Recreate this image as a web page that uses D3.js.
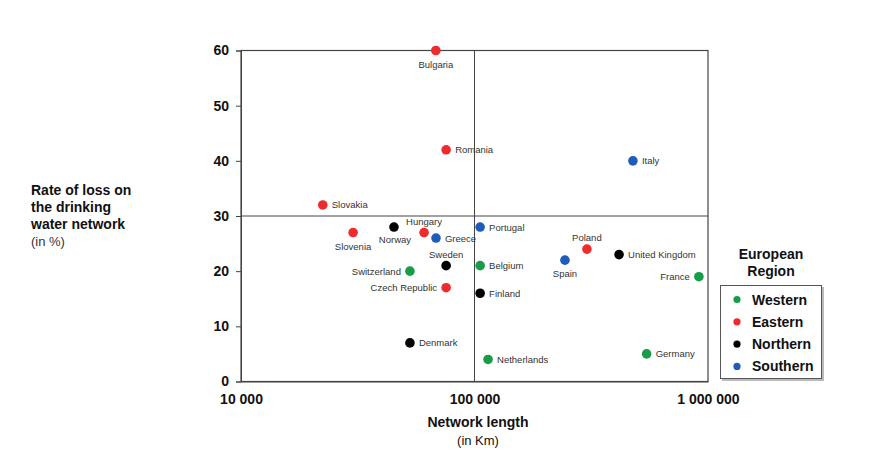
<!DOCTYPE html>
<html>
<head>
<meta charset="utf-8">
<script src="https://cdn.jsdelivr.net/npm/d3@7"></script>
<style>
  html, body { margin: 0; padding: 0; background: #fff; }
  svg { display: block; font-family: "Liberation Sans", Arial, sans-serif; }
</style>
</head>
<body>
<svg id="chart" width="869" height="460"></svg>
<script>
// ---- Data ----
const countries = ["Bulgaria","Romania","Italy","Slovakia","Norway","Hungary","Slovenia","Greece","Portugal","Poland","United Kingdom","Spain","France","Sweden","Belgium","Switzerland","Czech Republic","Finland","Denmark","Netherlands","Germany"];
const networkLength = [68300, 75600, 477000, 22400, 45200, 60800, 30200, 68400, 105700, 303000, 416000, 244000, 914000, 75600, 105700, 52900, 75600, 105700, 52900, 114300, 546000];
const lossRate = [60, 42, 40, 32, 28, 27, 27, 26, 28, 24, 23, 22, 19, 21, 21, 20, 17, 16, 7, 4, 5];
const regionOf = ["Eastern","Eastern","Southern","Eastern","Northern","Eastern","Eastern","Southern","Southern","Eastern","Northern","Southern","Western","Northern","Western","Western","Eastern","Northern","Northern","Western","Western"];
const labelPos = ["below","right","right","right","belowleft","above","below","right","right","above","right","below","left","above","right","left","left","right","right","right","right"];
const regions = ["Western","Eastern","Northern","Southern"];
const regionColors = ["#179c48","#ef2b2d","#000000","#1f5bb8"];
const xTicks = [10000, 100000, 1000000];
const xTickLabels = ["10 000","100 000","1 000 000"];
const yTicks = [0, 10, 20, 30, 40, 50, 60];

// ---- Layout ----
const svg = d3.select("#chart");
const pL = 241, pR = 708, pT = 50.5, pB = 381.5;
const x = d3.scaleLog().domain([10000, 1000000]).range([pL, pR]);
const y = d3.scaleLinear().domain([0, 60]).range([pB, pT]);
const color = d3.scaleOrdinal().domain(regions).range(regionColors);

// frame
svg.append("rect").attr("x", pL).attr("y", pT).attr("width", pR - pL).attr("height", pB - pT)
  .attr("fill", "none").attr("stroke", "#444").attr("stroke-width", 1.2);
// cross lines
svg.append("line").attr("x1", x(100000)).attr("x2", x(100000)).attr("y1", pT).attr("y2", pB)
  .attr("stroke", "#444").attr("stroke-width", 1);
svg.append("line").attr("x1", pL).attr("x2", pR).attr("y1", y(30)).attr("y2", y(30))
  .attr("stroke", "#444").attr("stroke-width", 1);

// y axis
const yAxis = d3.axisLeft(y).tickValues(yTicks).tickSize(5).tickPadding(7).tickFormat(d3.format("d"));
const gy = svg.append("g").attr("transform", `translate(${pL},0)`).call(yAxis);
gy.select(".domain").attr("stroke", "#444");
gy.selectAll(".tick line").attr("stroke", "#444");
gy.selectAll(".tick text").attr("font-size", 14).attr("font-weight", "bold").attr("fill", "#111")
  .attr("font-family", '"Liberation Sans", Arial, sans-serif');

// x axis
const xAxis = d3.axisBottom(x).tickValues(xTicks).tickSize(0).tickPadding(13)
  .tickFormat((d, i) => xTickLabels[i]);
const gx = svg.append("g").attr("transform", `translate(0,${pB})`).call(xAxis);
gx.select(".domain").attr("stroke", "#444");
gx.selectAll(".tick text").attr("font-size", 14).attr("font-weight", "bold").attr("fill", "#111")
  .attr("font-family", '"Liberation Sans", Arial, sans-serif');

// axis titles
const xt = svg.append("text").attr("x", 478).attr("text-anchor", "middle").attr("fill", "#111");
xt.append("tspan").attr("x", 478).attr("y", 427).attr("font-size", 14).attr("font-weight", "bold").text("Network length");
xt.append("tspan").attr("x", 478).attr("y", 445).attr("font-size", 13).text("(in Km)");

const ytLines = ["Rate of loss on", "the drinking", "water network"];
const yt = svg.append("text").attr("fill", "#111");
ytLines.forEach((t, i) => {
  yt.append("tspan").attr("x", 31).attr("y", 195 + i * 17).attr("font-size", 14).attr("font-weight", "bold").text(t);
});
yt.append("tspan").attr("x", 31).attr("y", 195 + 3 * 17).attr("font-size", 13).attr("fill", "#333").text("(in %)");

// points
const data = countries.map((c, i) => ({ name: c, len: networkLength[i], loss: lossRate[i], region: regionOf[i], pos: labelPos[i] }));
svg.append("g").selectAll("circle").data(data).join("circle")
  .attr("cx", d => x(d.len)).attr("cy", d => y(d.loss)).attr("r", 4.8)
  .attr("fill", d => color(d.region));

const lbl = svg.append("g").attr("font-size", 9.5).attr("fill", "#333");
data.forEach(d => {
  const cx = x(d.len), cy = y(d.loss);
  let tx = cx, ty = cy + 3.5, anchor = "start";
  if (d.pos === "right") { tx = cx + 9; anchor = "start"; }
  else if (d.pos === "left") { tx = cx - 9; anchor = "end"; }
  else if (d.pos === "below") { ty = cy + 17; anchor = "middle"; }
  else if (d.pos === "above") { ty = cy - 8; anchor = "middle"; }
  else if (d.pos === "belowleft") { tx = cx + 1; ty = cy + 16; anchor = "middle"; }
  lbl.append("text").attr("x", tx).attr("y", ty).attr("text-anchor", anchor).text(d.name);
});

// legend
const lg = svg.append("g");
lg.append("text").attr("x", 771).attr("y", 259).attr("text-anchor", "middle").attr("font-size", 14)
  .attr("font-weight", "bold").attr("fill", "#111").text("European");
lg.append("text").attr("x", 771).attr("y", 276).attr("text-anchor", "middle").attr("font-size", 14)
  .attr("font-weight", "bold").attr("fill", "#111").text("Region");
lg.append("rect").attr("x", 722).attr("y", 287).attr("width", 102).attr("height", 94).attr("fill", "#bbb");
lg.append("rect").attr("x", 720.5).attr("y", 285.5).attr("width", 101).attr("height", 93)
  .attr("fill", "#fff").attr("stroke", "#555").attr("stroke-width", 1);
regions.forEach((r, i) => {
  const cy = 299.5 + i * 22.3;
  lg.append("circle").attr("cx", 737).attr("cy", cy).attr("r", 3.6).attr("fill", color(r));
  lg.append("text").attr("x", 752).attr("y", cy + 5).attr("font-size", 14).attr("font-weight", "bold")
    .attr("fill", "#111").text(r);
});
</script>
</body>
</html>
